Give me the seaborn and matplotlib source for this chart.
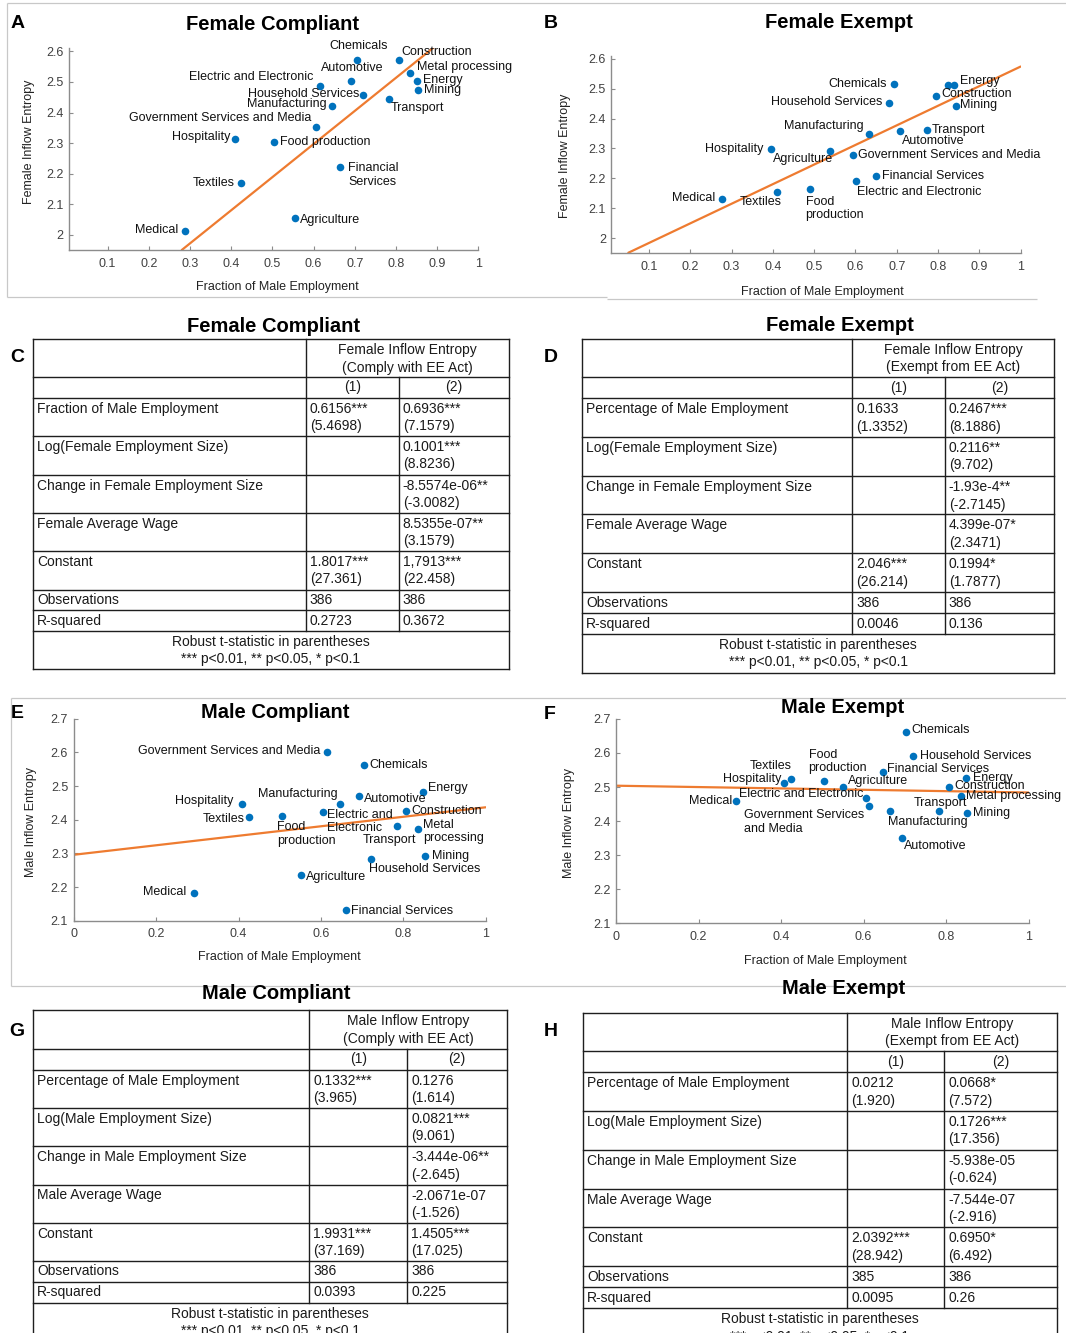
import numpy as np
import pandas as pd
import matplotlib
matplotlib.use("Agg")
import matplotlib.pyplot as plt
import seaborn as sns

# ---------------------------------------------------------------- data
industries = ["Chemicals", "Construction", "Metal processing", "Energy", "Mining",
              "Automotive", "Electric and Electronic", "Household Services",
              "Manufacturing", "Transport", "Government Services and Media",
              "Hospitality", "Food production", "Financial Services", "Textiles",
              "Agriculture", "Medical"]

# Female, compliant firms
fc_x = [0.705, 0.807, 0.835, 0.850, 0.853, 0.692, 0.615, 0.721, 0.646, 0.784,
        0.605, 0.409, 0.504, 0.664, 0.425, 0.555, 0.289]
fc_y = [2.573, 2.573, 2.530, 2.503, 2.473, 2.502, 2.487, 2.457, 2.421, 2.443,
        2.352, 2.312, 2.302, 2.221, 2.171, 2.056, 2.012]
# Female, exempt firms
fe_x = [0.694, 0.795, 0.823, 0.838, 0.843, 0.708, 0.602, 0.681, 0.634, 0.774,
        0.593, 0.395, 0.491, 0.651, 0.411, 0.538, 0.276]
fe_y = [2.517, 2.474, 2.511, 2.513, 2.441, 2.357, 2.191, 2.453, 2.347, 2.362,
        2.279, 2.297, 2.165, 2.207, 2.155, 2.293, 2.130]
# Male, compliant firms
mc_x = [0.704, 0.807, 0.836, 0.849, 0.853, 0.692, 0.605, 0.721, 0.646, 0.785,
        0.615, 0.409, 0.505, 0.662, 0.426, 0.551, 0.292]
mc_y = [2.563, 2.426, 2.373, 2.483, 2.292, 2.471, 2.423, 2.282, 2.447, 2.381,
        2.600, 2.447, 2.412, 2.131, 2.409, 2.235, 2.184]
# Male, exempt firms
me_x = [0.704, 0.807, 0.836, 0.849, 0.852, 0.692, 0.605, 0.721, 0.663, 0.784,
        0.614, 0.408, 0.504, 0.647, 0.425, 0.551, 0.291]
me_y = [2.663, 2.500, 2.475, 2.527, 2.424, 2.350, 2.467, 2.591, 2.431, 2.429,
        2.444, 2.512, 2.518, 2.543, 2.524, 2.501, 2.458]

# fitted lines: slope, intercept, x-range
fc_fit = (1.083, 1.647, [0.28, 0.892])
fe_fit = (0.656, 1.918, [0.05, 1.0])
mc_fit = (0.141, 2.296, [0.0, 1.0])
me_fit = (-0.020, 2.504, [0.0, 1.0])

# label text per panel (None = point left unlabeled)
fc_names = {"Financial Services": "Financial\nServices"}
fe_names = {"Food production": "Food\nproduction", "Metal processing": None}
mc_names = {"Food production": "Food\nproduction",
            "Electric and Electronic": "Electric and\nElectronic",
            "Metal processing": "Metal\nprocessing"}
me_names = {"Food production": "Food\nproduction",
            "Government Services and Media": "Government Services\nand Media"}

# regression tables
c_header = "Female Inflow Entropy\n(Comply with EE Act)"
c_rows = ["Fraction of Male Employment", "Log(Female Employment Size)",
          "Change in Female Employment Size", "Female Average Wage", "Constant",
          "Observations", "R-squared"]
c_col1 = ["0.6156***\n(5.4698)", "", "", "", "1.8017***\n(27.361)", "386", "0.2723"]
c_col2 = ["0.6936***\n(7.1579)", "0.1001***\n(8.8236)", "-8.5574e-06**\n(-3.0082)",
          "8.5355e-07**\n(3.1579)", "1,7913***\n(22.458)", "386", "0.3672"]

d_header = "Female Inflow Entropy\n(Exempt from EE Act)"
d_rows = ["Percentage of Male Employment", "Log(Female Employment Size)",
          "Change in Female Employment Size", "Female Average Wage", "Constant",
          "Observations", "R-squared"]
d_col1 = ["0.1633\n(1.3352)", "", "", "", "2.046***\n(26.214)", "386", "0.0046"]
d_col2 = ["0.2467***\n(8.1886)", "0.2116**\n(9.702)", "-1.93e-4**\n(-2.7145)",
          "4.399e-07*\n(2.3471)", "0.1994*\n(1.7877)", "386", "0.136"]

g_header = "Male Inflow Entropy\n(Comply with EE Act)"
g_rows = ["Percentage of Male Employment", "Log(Male Employment Size)",
          "Change in Male Employment Size", "Male Average Wage", "Constant",
          "Observations", "R-squared"]
g_col1 = ["0.1332***\n(3.965)", "", "", "", "1.9931***\n(37.169)", "386", "0.0393"]
g_col2 = ["0.1276\n(1.614)", "0.0821***\n(9.061)", "-3.444e-06**\n(-2.645)",
          "-2.0671e-07\n(-1.526)", "1.4505***\n(17.025)", "386", "0.225"]

h_header = "Male Inflow Entropy\n(Exempt from EE Act)"
h_rows = g_rows
h_col1 = ["0.0212\n(1.920)", "", "", "", "2.0392***\n(28.942)", "385", "0.0095"]
h_col2 = ["0.0668*\n(7.572)", "0.1726***\n(17.356)", "-5.938e-05\n(-0.624)",
          "-7.544e-07\n(-2.916)", "0.6950*\n(6.492)", "386", "0.26"]

table_footer = "Robust t-statistic in parentheses\n*** p<0.01, ** p<0.05, * p<0.1"

# ---------------------------------------------------------------- layout
W, H = 1066, 1333
DOT = "#0072BD"
LINE = "#EE7B30"
SPINE = "#8c8c8c"
TICKTXT = "#404040"

# label offsets (pixels from point to text centre) and alignment
fc_lab = {
    "Chemicals": (2, 14, "center"), "Construction": (3, 8, "left"),
    "Metal processing": (7, 6, "left"), "Energy": (6, 1, "left"),
    "Mining": (6, 0, "left"), "Automotive": (1, 13.5, "center"),
    "Electric and Electronic": (-6, 8.5, "right"), "Household Services": (-4, 1, "right"),
    "Manufacturing": (-5.4, 2, "right"), "Transport": (1.7, -9, "left"),
    "Government Services and Media": (-4.4, 9, "right"), "Hospitality": (-5, 2, "right"),
    "Food production": (5.7, 0, "left"), "Financial Services": (8.5, -7.8, "left"),
    "Textiles": (-6.4, -0.7, "right"), "Agriculture": (5.4, -2.4, "left"),
    "Medical": (-7, 0.7, "right")}
fe_lab = {
    "Chemicals": (-7.5, 0, "right"), "Construction": (5.8, 2, "left"),
    "Metal processing": (0, 0, "left"), "Energy": (6, 3.4, "left"),
    "Mining": (4.4, 1, "left"), "Automotive": (2.4, -9.2, "left"),
    "Electric and Electronic": (1, -11, "left"), "Household Services": (-6.8, 0.7, "right"),
    "Manufacturing": (-6, 7.9, "right"), "Transport": (4.4, 0, "left"),
    "Government Services and Media": (5, 0, "left"), "Hospitality": (-7, 0, "right"),
    "Food production": (-4.8, -19.5, "left"), "Financial Services": (5.8, 0, "left"),
    "Textiles": (4.4, -9.9, "right"), "Agriculture": (3, -8.9, "right"),
    "Medical": (-6.5, 1, "right")}
mc_lab = {
    "Chemicals": (5.7, 0, "left"), "Construction": (5.4, 0, "left"),
    "Metal processing": (5, -2.9, "left"), "Energy": (5, 3.4, "left"),
    "Mining": (6.8, 0, "left"), "Automotive": (5.4, -3, "left"),
    "Electric and Electronic": (4.4, -9.6, "left"), "Household Services": (-1.4, -9.8, "left"),
    "Manufacturing": (-2, 9.8, "right"), "Transport": (-7.8, -14.2, "center"),
    "Government Services and Media": (-7, 1.4, "right"), "Hospitality": (-8.8, 3, "right"),
    "Food production": (-4.4, -18.3, "left"), "Financial Services": (5, -1, "left"),
    "Textiles": (-5, -2.7, "right"), "Agriculture": (5.7, -1.7, "left"),
    "Medical": (-7.8, 0.7, "right")}
me_lab = {
    "Chemicals": (5, 1.7, "left"), "Construction": (5.5, 1, "left"),
    "Metal processing": (5, 0, "left"), "Energy": (6.8, 0, "left"),
    "Mining": (6, 0, "left"), "Automotive": (2.7, -7.5, "left"),
    "Electric and Electronic": (-2.4, 4.1, "right"), "Household Services": (6.5, 0, "left"),
    "Manufacturing": (-2, -11.6, "left"), "Transport": (0.7, 8.2, "center"),
    "Government Services and Media": (-125.8, -15.7, "left"), "Hospitality": (-3, 4.4, "right"),
    "Food production": (-15.4, 19.7, "left"), "Financial Services": (3.8, 3.4, "left"),
    "Textiles": (0.3, 13, "right"), "Agriculture": (4.8, 5.8, "left"),
    "Medical": (-4.4, 0, "right")}

sns.set_theme(style="ticks")
plt.rcParams["font.family"] = ["Liberation Sans", "DejaVu Sans"]

fig = plt.figure(figsize=(W / 100, H / 100), dpi=100)
fig.patch.set_facecolor("white")

# full-figure pixel canvas for frames, panel letters, titles and tables
canvas = fig.add_axes([0, 0, 1, 1], zorder=0)
canvas.set_xlim(0, W)
canvas.set_ylim(H, 0)
canvas.axis("off")
canvas.patch.set_alpha(0)

FRAME = "#c8c8c8"
for xs, ys in [([7, 1066], [3, 3]), ([7, 7], [3, 297]), ([7, 607], [297, 297]),
               ([607, 1037], [299, 299]),
               ([11, 1066], [697.5, 697.5]), ([11, 11], [697.5, 986]),
               ([11, 1066], [986, 986])]:
    canvas.plot(xs, ys, color=FRAME, lw=0.9, solid_capstyle="butt")

for letter, (lx, ly) in {"A": (17.6, 23), "B": (550.5, 23.2), "C": (17.6, 357.3),
                         "D": (550.5, 357.9), "E": (17.6, 713.6), "F": (549.8, 714.5),
                         "G": (16.9, 1031.4), "H": (550.5, 1031.4)}.items():
    canvas.text(lx, ly, letter, ha="center", va="center", fontsize=14,
                fontweight="bold", color="black")


def scatter_panel(box, xlim, ylim, xticks, yticks, xs, ys, names, labels, fit,
                  title, title_xy, xlabel_xy, ylabel, ylabel_xy):
    l, t, r, b = box
    ax = fig.add_axes([l / W, 1 - b / H, (r - l) / W, (b - t) / H], zorder=2)
    ax.patch.set_alpha(0)
    df = pd.DataFrame({"industry": industries, "x": xs, "y": ys})
    slope, icpt, xr = fit
    line = pd.DataFrame({"x": xr, "y": [icpt + slope * v for v in xr]})
    sns.lineplot(data=line, x="x", y="y", ax=ax, color=LINE, lw=1.6, zorder=2)
    sns.scatterplot(data=df, x="x", y="y", ax=ax, color=DOT, s=30,
                    linewidth=0, zorder=3)
    for _, row in df.iterrows():
        name = row["industry"]
        txt = names.get(name, name)
        if txt is None:
            continue
        dx, dy, ha = labels[name]
        ax.annotate(txt, (row["x"], row["y"]), xytext=(dx, dy),
                    textcoords="offset pixels", ha=ha, va="center",
                    fontsize=9, color="#111111", linespacing=1.15,
                    annotation_clip=False)
    ax.set_xlim(*xlim)
    ax.set_ylim(*ylim)
    ax.set_xticks(xticks)
    ax.set_yticks(yticks)
    ax.set_xticklabels([f"{v:g}" for v in xticks])
    ax.set_yticklabels([f"{v:g}" for v in yticks])
    sns.despine(ax=ax)
    for s in ("left", "bottom"):
        ax.spines[s].set_color(SPINE)
        ax.spines[s].set_linewidth(1.0)
    ax.tick_params(direction="in", length=3, width=0.8, color=SPINE,
                   labelcolor=TICKTXT, labelsize=9)
    ax.tick_params(axis="x", pad=5.5)
    ax.tick_params(axis="y", pad=4)
    ax.set_xlabel("Fraction of Male Employment", fontsize=9, color="#222222")
    ax.set_ylabel(ylabel, fontsize=9, color="#222222")
    ax.xaxis.set_label_coords((xlabel_xy[0] - l) / (r - l), (b - xlabel_xy[1]) / (b - t))
    ax.yaxis.set_label_coords((ylabel_xy[0] - l) / (r - l), (b - ylabel_xy[1]) / (b - t))
    ax.xaxis.label.set_va("center")
    ax.yaxis.label.set_va("center")
    canvas.text(title_xy[0], title_xy[1], title, ha="center", va="center",
                fontsize=14.5, fontweight="bold", color="black")
    return ax


fem_xt = np.round(np.arange(0.1, 1.01, 0.1), 1)
fem_yt = np.round(np.arange(2.0, 2.61, 0.1), 1)
male_xt = np.round(np.arange(0.0, 1.01, 0.2), 1)
male_yt = np.round(np.arange(2.1, 2.71, 0.1), 1)

scatter_panel((69.3, 48.3, 478.3, 250.1), (0.007, 1.0), (1.95, 2.61), fem_xt, fem_yt,
              fc_x, fc_y, fc_names, fc_lab, fc_fit, "Female Compliant", (272, 24.3),
              (277.8, 287.3), "Female Inflow Entropy", (29.4, 142))
scatter_panel((611.4, 55.8, 1020.6, 253), (0.009, 1.0), (1.95, 2.61), fem_xt, fem_yt,
              fe_x, fe_y, fe_names, fe_lab, fe_fit, "Female Exempt", (838.7, 22.2),
              (822.3, 291.6), "Female Inflow Entropy", (565.2, 155.6))
scatter_panel((73.7, 718.7, 485.7, 920.8), (0.0, 1.0), (2.1, 2.7), male_xt, male_yt,
              mc_x, mc_y, mc_names, mc_lab, mc_fit, "Male Compliant", (275.5, 712.6),
              (279.5, 957), "Male Inflow Entropy", (31.4, 821.8))
scatter_panel((616.2, 718.9, 1028.5, 923.4), (0.0, 1.0), (2.1, 2.7), male_xt, male_yt,
              me_x, me_y, me_names, me_lab, me_fit, "Male Exempt", (842.1, 707.6),
              (825, 961), "Male Inflow Entropy", (569.3, 823.2))


def draw_table(cols, rows, header, names, col1, col2, title, title_xy):
    x0, x1, x2, x3 = cols
    kw = dict(color="#1e1e1e", lw=1.0, solid_capstyle="projecting")
    for y in rows:
        canvas.plot([x0, x3], [y, y], **kw)
    canvas.plot([x0, x0], [rows[0], rows[-1]], **kw)
    canvas.plot([x3, x3], [rows[0], rows[-1]], **kw)
    canvas.plot([x1, x1], [rows[0], rows[-2]], **kw)
    canvas.plot([x2, x2], [rows[1], rows[-2]], **kw)
    tkw = dict(fontsize=10, color="#1a1a1a", va="center")
    pitch, first = 17.3, 11.0

    def cell(x, top, bottom, txt, ha="left"):
        lines = txt.split("\n") if txt else []
        if bottom - top > 30:
            for i, s in enumerate(lines):
                canvas.text(x, top + first + i * pitch, s, ha=ha, **tkw)
        else:
            for s in lines:
                canvas.text(x, (top + bottom) / 2, s, ha=ha, **tkw)

    cell((x1 + x3) / 2, rows[0], rows[1], header, ha="center")
    cell((x1 + x2) / 2, rows[1], rows[2], "(1)", ha="center")
    cell((x2 + x3) / 2, rows[1], rows[2], "(2)", ha="center")
    for i in range(len(names)):
        top, bot = rows[2 + i], rows[3 + i]
        cell(x0 + 4, top, bot, names[i])
        cell(x1 + 4, top, bot, col1[i])
        cell(x2 + 4, top, bot, col2[i])
    cell((x0 + x3) / 2, rows[-2], rows[-1], table_footer, ha="center")
    canvas.text(title_xy[0], title_xy[1], title, ha="center", va="center",
                fontsize=14.5, fontweight="bold", color="black")


draw_table([33.1, 305.9, 398.8, 508.7],
           [339.4, 376.6, 397.9, 436.1, 474.6, 512.8, 551, 589.5, 610.2, 631.1, 669],
           c_header, c_rows, c_col1, c_col2, "Female Compliant", (273.8, 326.2))
draw_table([582, 852.4, 944.7, 1054.1],
           [339.1, 377, 398.2, 437.2, 476.2, 514.4, 553.4, 592.1, 613.2, 634.1, 673.1],
           d_header, d_rows, d_col1, d_col2, "Female Exempt", (839.4, 325.4))
draw_table([33.1, 309.3, 407.3, 507],
           [1010.4, 1048.6, 1069.6, 1107.8, 1146.3, 1184.5, 1222.7, 1260.5, 1281.5,
            1302.8, 1341.5],
           g_header, g_rows, g_col1, g_col2, "Male Compliant", (276.5, 993.5))
draw_table([583, 847.3, 944.4, 1056.5],
           [1012.6, 1050.9, 1072.4, 1111.1, 1150, 1188.7, 1227.3, 1266.3, 1287.1,
            1308.3, 1347],
           h_header, h_rows, h_col1, h_col2, "Male Exempt", (843.8, 988.7))

fig.savefig("out.png", dpi=100, facecolor="white")
